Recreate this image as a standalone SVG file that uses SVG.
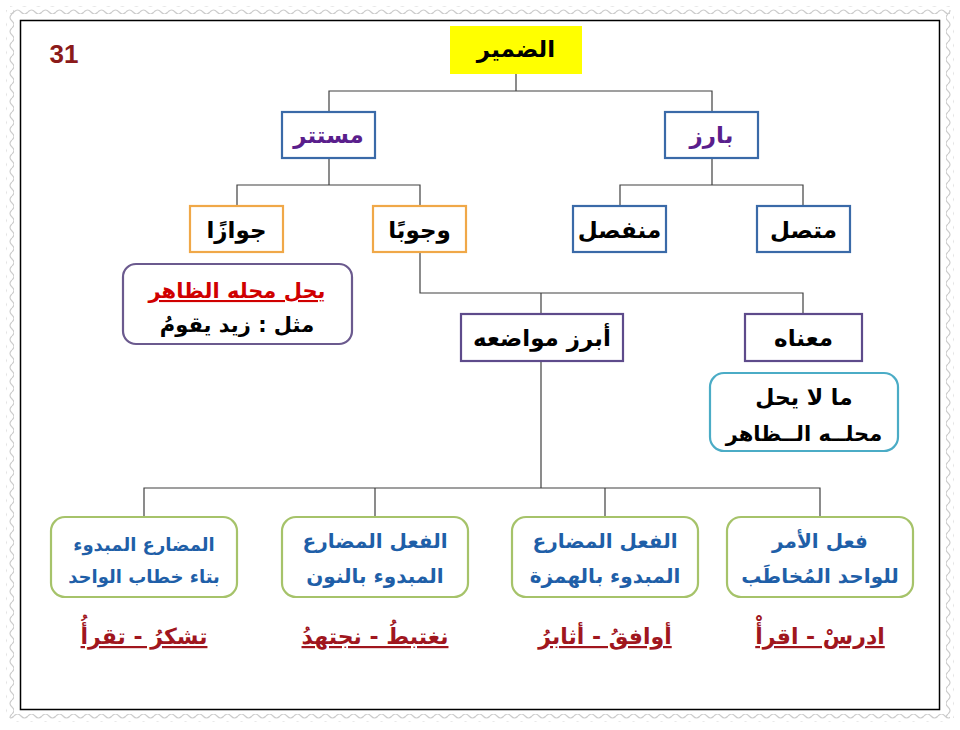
<svg xmlns="http://www.w3.org/2000/svg" width="960" height="730" viewBox="0 0 960 730">
<defs>
<style>
text{font-family:"DejaVu Sans","Liberation Sans",sans-serif;text-anchor:middle;font-weight:bold;direction:rtl}
.conn{fill:none;stroke:#404040;stroke-width:1.2}
.blue{fill:#fff;stroke:#3A6AA8;stroke-width:2.2}
.orange{fill:#fff;stroke:#F0A848;stroke-width:2.2}
.purp{fill:#fff;stroke:#5E4B8B;stroke-width:2.2}
.green{fill:#fff;stroke:#A6C36A;stroke-width:2.2}
.teal{fill:#fff;stroke:#4BACC6;stroke-width:2.2}
.t1{font-size:23px;fill:#000}
.tp{font-size:23px;fill:#5A1E8C}
.tb{font-size:20px;fill:#1F5FA8}
.tbs{font-size:18px;fill:#1F5FA8}
.ex{font-size:22px;fill:#A0161E;text-decoration:underline}
.wave{fill:none;stroke:#cccccc;stroke-width:1.2}
</style>
<pattern id="wh" x="0" y="0" width="14" height="8" patternUnits="userSpaceOnUse">
<path class="wave" d="M0,4 Q3.5,0 7,4 T14,4"/>
</pattern>
<pattern id="wv" x="0" y="0" width="8" height="14" patternUnits="userSpaceOnUse">
<path class="wave" d="M4,0 Q0,3.5 4,7 T4,14"/>
</pattern>
</defs>
<rect x="0" y="0" width="960" height="730" fill="#fff"/>
<g id="stamp">
<rect x="10" y="6" width="940" height="8" fill="url(#wh)"/>
<rect x="10" y="714" width="940" height="8" fill="url(#wh)"/>
<rect x="6" y="10" width="8" height="708" fill="url(#wv)"/>
<rect x="946" y="10" width="8" height="708" fill="url(#wv)"/>
</g>
<rect id="frame" x="20.5" y="20.5" width="919" height="689" fill="#fff" stroke="#000" stroke-width="1.5"/>
<text id="page" x="64" y="63" style="font-family:'Liberation Sans',Arial,sans-serif;font-size:26px;fill:#8B1A1A;direction:ltr">31</text>
<g id="connectors">
<path class="conn" d="M516,74V91M329,112V91H712V112"/>
<path class="conn" d="M329,158V185M237,206V185H420V206"/>
<path class="conn" d="M712,158V185M620,206V185H803V206"/>
<path class="conn" d="M420,252V293H803V314M541,293V314"/>
<path class="conn" d="M541,361V488M144,517V488H820V517M375,488V517M605,488V517"/>
</g>
<g id="n-damir"><rect x="450" y="26" width="132" height="48" fill="#FFFF00"/><text class="t1" x="516" y="57">الضمير</text></g>
<g id="n-mustatir"><rect class="blue" x="282" y="112" width="93" height="46"/><text class="tp" x="328.5" y="143">مستتر</text></g>
<g id="n-bariz"><rect class="blue" x="665" y="112" width="93" height="46"/><text class="tp" x="711.5" y="143">بارز</text></g>
<g id="n-jawazan"><rect class="orange" x="190" y="206" width="93" height="46"/><text class="t1" x="236.5" y="238">جوازًا</text></g>
<g id="n-wujuban"><rect class="orange" x="373" y="206" width="93" height="46"/><text class="t1" x="419.5" y="238">وجوبًا</text></g>
<g id="n-munfasil"><rect class="blue" x="573" y="206" width="93" height="46"/><text class="t1" x="619.5" y="238">منفصل</text></g>
<g id="n-muttasil"><rect class="blue" x="757" y="206" width="93" height="46"/><text class="t1" x="803.5" y="238">متصل</text></g>
<g id="n-jawaz-def"><rect x="123" y="264" width="229" height="80" rx="13" fill="#fff" stroke="#6B5A8E" stroke-width="2.2"/><text x="237" y="298" style="font-size:21px;fill:#D00000;text-decoration:underline">يحل محله الظاهر</text><text class="t1" x="237" y="332" style="font-size:21px">مثل : زيد يقومُ</text></g>
<g id="n-abraz"><rect class="purp" x="461" y="314" width="162" height="47"/><text class="t1" x="542" y="346">أبرز مواضعه</text></g>
<g id="n-manahu"><rect class="purp" x="745" y="314" width="117" height="47"/><text class="t1" x="803.5" y="346">معناه</text></g>
<g id="n-manahu-def"><rect class="teal" x="710" y="373" width="188" height="78" rx="14"/><text class="t1" x="804" y="405" style="font-size:22px">ما لا يحل</text><text class="t1" x="804" y="441" style="font-size:21px">محلــه الــظاهر</text></g>
<g id="n-b1"><rect class="green" x="51" y="517" width="186" height="80" rx="14"/><text class="tbs" x="144" y="551">المضارع المبدوء</text><text class="tbs" x="144" y="583">بتاء خطاب الواحد</text></g>
<g id="n-b2"><rect class="green" x="282" y="517" width="186" height="80" rx="14"/><text class="tb" x="375" y="548">الفعل المضارع</text><text class="tb" x="375" y="583">المبدوء بالنون</text></g>
<g id="n-b3"><rect class="green" x="512" y="517" width="186" height="80" rx="14"/><text class="tb" x="605" y="548">الفعل المضارع</text><text class="tb" x="605" y="583">المبدوء بالهمزة</text></g>
<g id="n-b4"><rect class="green" x="727" y="517" width="186" height="80" rx="14"/><text class="tb" x="820" y="548">فعل الأمر</text><text class="tb" x="820" y="583">للواحد المُخاطَب</text></g>
<g id="ex1"><text class="ex" x="144" y="644">تشكرُ - تقرأُ</text></g>
<g id="ex2"><text class="ex" x="375" y="644">نغتبطُ - نجتهدُ</text></g>
<g id="ex3"><text class="ex" x="605" y="644">أوافقُ - أثابرُ</text></g>
<g id="ex4"><text class="ex" x="820" y="644">ادرسْ - اقرأْ</text></g>
</svg>
